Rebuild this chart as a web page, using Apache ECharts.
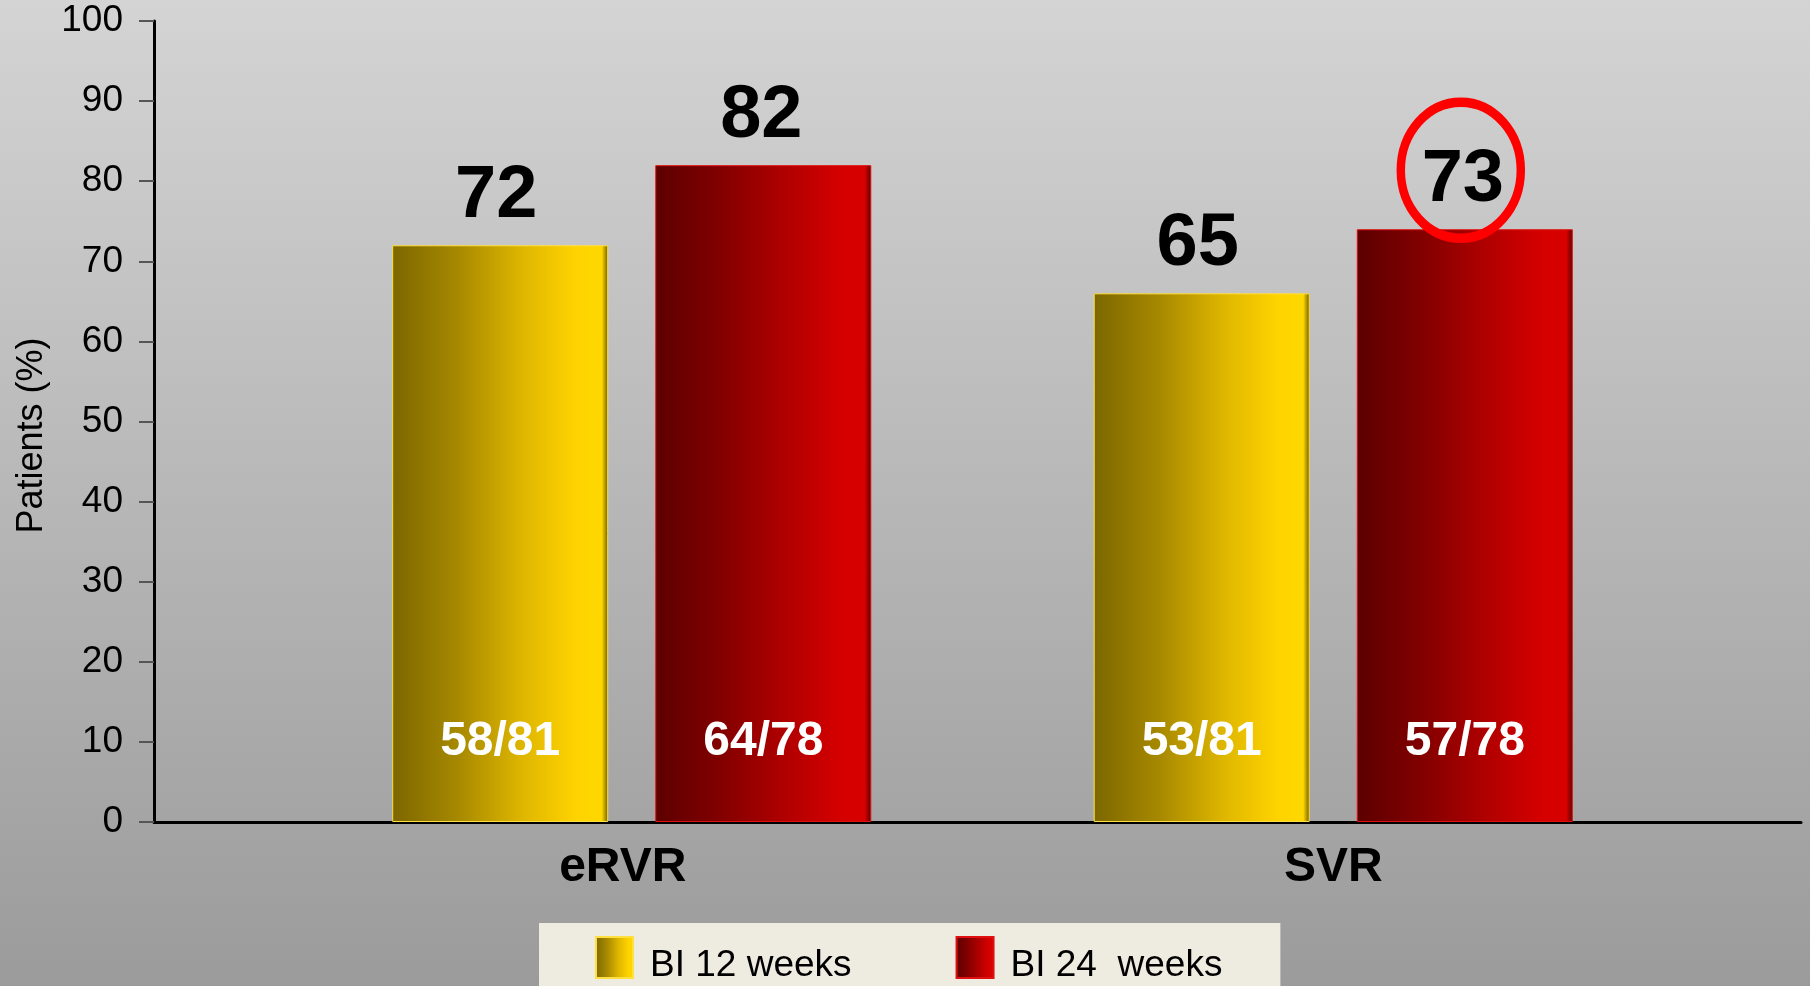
<!DOCTYPE html>
<html><head><meta charset="utf-8">
<script src="https://cdn.jsdelivr.net/npm/echarts@6/dist/echarts.min.js"></script>
<style>html,body{margin:0;padding:0;width:1810px;height:986px;overflow:hidden;background:#bbb}
#c{width:1810px;height:986px}</style></head><body><div id="c"></div>
<script>
// ---- data ----
const categories = ['eRVR', 'SVR'];
const seriesNames = ['BI 12 weeks', 'BI 24  weeks'];
const values12 = [72, 66];
const values24 = [82, 74];
const pctLabels12 = ['72', '65'];
const pctLabels24 = ['82', '73'];
const countLabels12 = ['58/81', '53/81'];
const countLabels24 = ['64/78', '57/78'];
const yMin = 0, yMax = 100, yStep = 10;
const yAxisTitle = 'Patients (%)';
const highlightIndex = 1; // SVR, BI 24 weeks

// ---- styles ----
const FONT = "'Liberation Sans', Arial, sans-serif";
const yellowGrad = new echarts.graphic.LinearGradient(0, 0, 1, 0, [
  {offset: 0, color: '#7c6700'}, {offset: 0.3, color: '#a68800'},
  {offset: 0.6, color: '#deb600'}, {offset: 0.85, color: '#ffd300'},
  {offset: 0.97, color: '#ffd800'}, {offset: 1, color: '#6a5800'}]);
const redGrad = new echarts.graphic.LinearGradient(0, 0, 1, 0, [
  {offset: 0, color: '#5c0000'}, {offset: 0.3, color: '#820000'},
  {offset: 0.6, color: '#b00000'}, {offset: 0.85, color: '#d40000'},
  {offset: 0.97, color: '#d80000'}, {offset: 1, color: '#580000'}]);
const BAR_W = 216, BAR_GAP = '21.8%';
const gridTop = 21, gridBottom = 164;

const chart = echarts.init(document.getElementById('c'), null, {renderer: 'canvas'});

function topLabel(arr, dx) {
  return {show: true, position: 'top', distance: 12, offset: [dx, 0], color: '#000', fontFamily: FONT,
    fontWeight: 'bold', fontSize: 74, formatter: p => arr[p.dataIndex]};
}
function innerLabel(arr) {
  return {show: true, position: 'insideBottom', distance: 56, color: '#fff', fontFamily: FONT,
    fontWeight: 'bold', fontSize: 48, formatter: p => arr[p.dataIndex]};
}

const option = {
  animation: false,
  backgroundColor: new echarts.graphic.LinearGradient(0, 0, 0, 1, [
    {offset: 0, color: '#d4d4d4'}, {offset: 1, color: '#9b9b9b'}]),
  textStyle: {fontFamily: FONT},
  legend: {
    data: seriesNames, left: 539, top: 923, orient: 'horizontal',
    backgroundColor: '#eeebe1', padding: [13, 58, 20, 56],
    itemWidth: 37, itemHeight: 41, itemGap: 104, icon: 'rect',
    formatter: name => '{t|' + name + '}',
    textStyle: {fontSize: 37, color: '#000', fontFamily: FONT,
      rich: {t: {fontSize: 37, color: '#000', fontFamily: FONT, padding: [16, 0, 0, 12]}}},
    selectedMode: false
  },
  grid: [
    {left: 154, right: 9, top: gridTop, bottom: gridBottom},
    {left: 281, width: 1403, top: gridTop, bottom: gridBottom},
    {left: 281, width: 1403, top: gridTop, bottom: gridBottom}
  ],
  xAxis: [
    {gridIndex: 0, type: 'category', data: categories,
      axisLine: {show: true, lineStyle: {color: '#000', width: 3}},
      axisTick: {show: false}, axisLabel: {show: false}, splitLine: {show: false}},
    {gridIndex: 1, type: 'category', data: categories,
      axisLine: {show: false}, axisTick: {show: false},
      axisLabel: {show: true, color: '#000', fontWeight: 'bold', fontSize: 48, margin: 22, fontFamily: FONT,
        formatter: (v, i) => i === 0 ? '{a|' + v + '}' : '{b|' + v + '}',
        rich: {
          a: {color: '#000', fontWeight: 'bold', fontSize: 48, fontFamily: FONT, padding: [0, 18, 0, 0]},
          b: {color: '#000', fontWeight: 'bold', fontSize: 48, fontFamily: FONT}
        }}},
    {gridIndex: 2, type: 'category', data: categories, show: false}
  ],
  yAxis: [
    {gridIndex: 0, type: 'value', min: yMin, max: yMax, interval: yStep,
      axisLine: {show: true, lineStyle: {color: '#000', width: 3}},
      axisTick: {show: true, length: 15, lineStyle: {color: '#555', width: 2}},
      axisLabel: {color: '#000', fontSize: 37, margin: 31, fontFamily: FONT},
      splitLine: {show: false},
      name: yAxisTitle, nameLocation: 'middle', nameGap: 102,
      nameTextStyle: {color: '#000', fontSize: 36, fontFamily: FONT, padding: [0, 28, 0, 0]}},
    {gridIndex: 1, type: 'value', min: yMin, max: yMax, interval: yStep, show: false},
    {gridIndex: 2, type: 'value', min: yMin, max: yMax, interval: yStep, show: false}
  ],
  series: [
    {name: seriesNames[0], type: 'bar', xAxisIndex: 1, yAxisIndex: 1, data: values12,
      barWidth: BAR_W, barGap: BAR_GAP,
      itemStyle: {color: yellowGrad, borderColor: '#ffe040', borderWidth: 1},
      label: topLabel(pctLabels12, -4)},
    {name: seriesNames[1], type: 'bar', xAxisIndex: 1, yAxisIndex: 1, data: values24,
      barWidth: BAR_W, barGap: BAR_GAP,
      itemStyle: {color: redGrad, borderColor: '#e01010', borderWidth: 1},
      label: topLabel(pctLabels24, -2),
      markPoint: {
        symbol: 'circle', symbolSize: [120, 136], silent: true,
        itemStyle: {color: 'rgba(0,0,0,0)', borderColor: '#ff0000', borderWidth: 9},
        label: {show: false},
        data: [{coord: [categories[highlightIndex], values24[highlightIndex]], symbolOffset: [-4, -59]}]
      }},
    {name: 'counts12', type: 'bar', xAxisIndex: 2, yAxisIndex: 2, data: values12,
      barWidth: BAR_W, barGap: BAR_GAP, silent: true,
      itemStyle: {color: 'rgba(0,0,0,0)'}, label: innerLabel(countLabels12)},
    {name: 'counts24', type: 'bar', xAxisIndex: 2, yAxisIndex: 2, data: values24,
      barWidth: BAR_W, barGap: BAR_GAP, silent: true,
      itemStyle: {color: 'rgba(0,0,0,0)'}, label: innerLabel(countLabels24)}
  ]
};
chart.setOption(option);
</script></body></html>
